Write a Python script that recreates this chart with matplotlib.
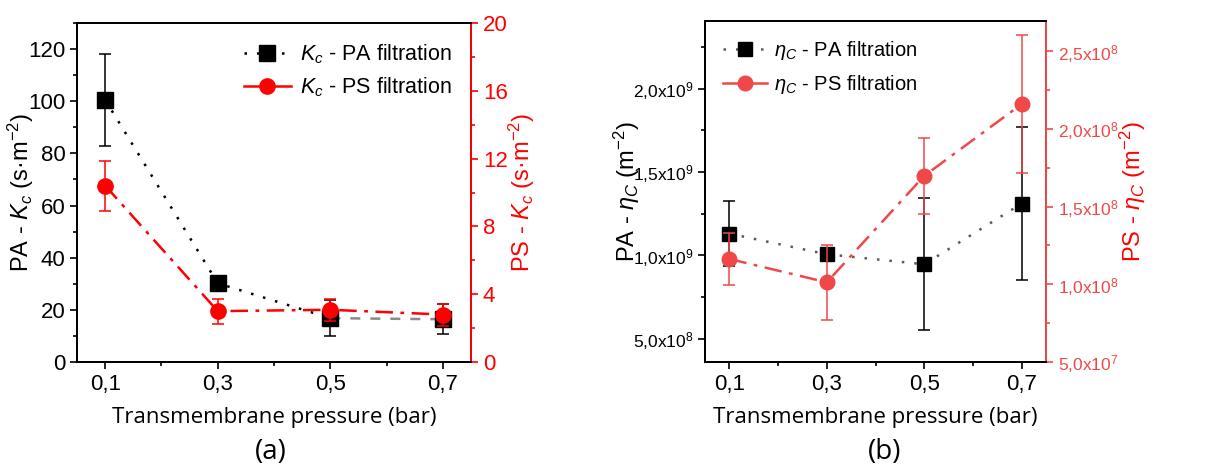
import matplotlib
matplotlib.use("Agg")
import matplotlib.pyplot as plt
from matplotlib.ticker import MultipleLocator, FuncFormatter, FixedLocator

plt.rcParams['font.family'] = ['Liberation Sans', 'DejaVu Sans']
plt.rcParams['mathtext.fontset'] = 'custom'
plt.rcParams['mathtext.rm'] = 'Liberation Sans'
plt.rcParams['mathtext.it'] = 'Liberation Sans:italic'
plt.rcParams['mathtext.bf'] = 'Liberation Sans:bold'

# Transmembrane pressure (bar)
pressure = [0.1, 0.3, 0.5, 0.7]
pressure_labels = ["0,1", "0,3", "0,5", "0,7"]

# Cake filtration constant K_c (s·m^-2)
kc_pa = [100.5, 30.2, 16.8, 16.4]
kc_pa_err = [17.5, 0.8, 7.0, 5.7]
kc_ps = [10.4, 3.0, 3.08, 2.8]
kc_ps_err = [1.48, 0.74, 0.65, 0.65]

# Specific cake resistance eta_C (m^-2)
eta_pa = [1.13e9, 1.006e9, 0.946e9, 1.31e9]
eta_pa_err = [0.195e9, 0.03e9, 0.397e9, 0.46e9]
eta_ps = [1.163e8, 1.013e8, 1.698e8, 2.16e8]
eta_ps_err = [1.7e7, 2.43e7, 2.44e7, 4.45e7]

RED_A = "#ff0000"
RED_B = "#f04848"
GREY = "#5a5a5a"
LABEL_FONT = "Open Sans"

fig = plt.figure(figsize=(12.27, 4.66), dpi=100)
ax_a = fig.add_axes([0.0628, 0.2232, 0.3211, 0.7274])
ax_b = fig.add_axes([0.5746, 0.2232, 0.2779, 0.7318])


def style_axis(ax):
    for s in ax.spines.values():
        s.set_linewidth(1.4)
    ax.tick_params(which='both', direction='out', width=1.2)
    ax.tick_params(which='major', length=5)
    ax.tick_params(which='minor', length=3)


def sci_label(v, exp):
    m = v / 10 ** exp
    return (f"{m:.1f}".replace(".", ",")) + "x10$^{" + str(exp) + "}$"


# ---------------- panel (a) ----------------
ax_a2 = ax_a.twinx()
for ax in (ax_a, ax_a2):
    style_axis(ax)

ax_a.plot(pressure[:3], kc_pa[:3], color='black', linestyle=(0, (1, 4)), lw=1.8, zorder=2)
ax_a.plot(pressure[2:], kc_pa[2:], color='#8a8a8a', linestyle=(0, (4, 4)), lw=1.8, zorder=2)
ax_a.errorbar(pressure, kc_pa, yerr=kc_pa_err, fmt='s', color='black', ms=11,
              capsize=4, elinewidth=1.1, capthick=1.1, zorder=3)
ax_a2.plot(pressure, kc_ps, color=RED_A, linestyle=(0, (7, 3, 1.5, 3)), lw=1.8, zorder=2)
ax_a2.errorbar(pressure, kc_ps, yerr=kc_ps_err, fmt='o', color=RED_A, ms=11,
               capsize=4, elinewidth=1.1, capthick=1.1, zorder=3)

ax_a.set_xlim(0.05, 0.75)
ax_a.set_ylim(0, 130)
ax_a2.set_ylim(0, 20)
ax_a.xaxis.set_major_locator(FixedLocator(pressure))
ax_a.set_xticklabels(pressure_labels)
ax_a.xaxis.set_minor_locator(FixedLocator([0.2, 0.4, 0.6]))
ax_a.yaxis.set_major_locator(MultipleLocator(20))
ax_a.yaxis.set_minor_locator(MultipleLocator(10))
ax_a2.yaxis.set_major_locator(MultipleLocator(4))
ax_a2.yaxis.set_minor_locator(MultipleLocator(2))
ax_a.tick_params(labelsize=16)
ax_a2.tick_params(labelsize=16, colors=RED_A, which='both')
ax_a2.spines['right'].set_color(RED_A)

ax_a.set_ylabel("PA - $K_c$ (s·m$^{-2}$)", fontsize=17)
ax_a.yaxis.set_label_coords(-0.104, 0.5)
ax_a2.set_ylabel("PS - $K_c$ (s·m$^{-2}$)", fontsize=17, color=RED_A)
ax_a2.yaxis.set_label_coords(1.091, 0.5)
ax_a.set_xlabel("Transmembrane pressure (bar)", fontsize=16, family=LABEL_FONT, labelpad=9)

ha = [plt.Line2D([], [], color='black', linestyle=(0, (1, 4)), lw=1.8, marker='s', ms=11),
      plt.Line2D([], [], color=RED_A, linestyle='-', lw=1.8, marker='o', ms=11)]
ax_a.legend(ha, ["$K_c$ - PA filtration", "$K_c$ - PS filtration"], loc='upper right',
            bbox_to_anchor=(1.0, 1.0), frameon=False, fontsize=15.5, handlelength=2.2,
            handletextpad=0.4, labelspacing=0.45)

# ---------------- panel (b) ----------------
ax_b2 = ax_b.twinx()
for ax in (ax_b, ax_b2):
    style_axis(ax)

ax_b.plot(pressure, eta_pa, color=GREY, linestyle=(0, (1, 4)), lw=1.8, zorder=2)
ax_b.errorbar(pressure, eta_pa, yerr=eta_pa_err, fmt='s', color='black', ms=10.5,
              capsize=4, elinewidth=1.1, capthick=1.1, zorder=3)
ax_b2.plot(pressure, eta_ps, color=RED_B, linestyle=(0, (7, 3, 1.5, 3)), lw=1.8, zorder=2)
ax_b2.errorbar(pressure, eta_ps, yerr=eta_ps_err, fmt='o', color=RED_B, ms=10.5,
               capsize=4, elinewidth=1.1, capthick=1.1, zorder=3)

ax_b.set_xlim(0.05, 0.75)
ax_b.set_ylim(3.6e8, 2.405e9)
ax_b2.set_ylim(5e7, 2.695e8)
ax_b.xaxis.set_major_locator(FixedLocator(pressure))
ax_b.set_xticklabels(pressure_labels)
ax_b.xaxis.set_minor_locator(FixedLocator([0.2, 0.4, 0.6]))
ax_b.yaxis.set_major_locator(MultipleLocator(5e8))
ax_b.yaxis.set_minor_locator(MultipleLocator(2.5e8))
ax_b2.yaxis.set_major_locator(MultipleLocator(5e7))
ax_b2.yaxis.set_minor_locator(MultipleLocator(2.5e7))
ax_b.yaxis.set_major_formatter(FuncFormatter(
    lambda v, p: sci_label(v, 9) if v >= 1e9 else sci_label(v, 8)))
ax_b2.yaxis.set_major_formatter(FuncFormatter(
    lambda v, p: sci_label(v, 8) if v >= 1e8 else sci_label(v, 7)))
ax_b.tick_params(axis='x', labelsize=16)
ax_b.tick_params(axis='y', labelsize=12.5)
ax_b2.tick_params(labelsize=12.5, colors=RED_B, which='both')
ax_b2.spines['right'].set_color(RED_B)

ax_b.set_ylabel(r"PA - $\eta_C$ (m$^{-2}$)", fontsize=17)
ax_b.yaxis.set_label_coords(-0.185, 0.5)
ax_b2.set_ylabel(r"PS - $\eta_C$ (m$^{-2}$)", fontsize=17, color=RED_A)
ax_b2.yaxis.set_label_coords(1.211, 0.5)
ax_b.set_xlabel("Transmembrane pressure (bar)", fontsize=16, family=LABEL_FONT, labelpad=9)

hb = [plt.Line2D([], [], color=GREY, linestyle=(0, (1, 4)), lw=1.8, marker='s', ms=10.5,
                 markerfacecolor='black', markeredgecolor='black'),
      plt.Line2D([], [], color=RED_B, linestyle='-', lw=1.8, marker='o', ms=10.5)]
ax_b.legend(hb, [r"$\eta_C$ - PA filtration", r"$\eta_C$ - PS filtration"], loc='upper left',
            bbox_to_anchor=(0.0, 1.0), frameon=False, fontsize=14.5, handlelength=2.2,
            handletextpad=0.3, labelspacing=0.55)

fig.text(271 / 1227, 1 - 452 / 466, "(a)", fontsize=20, family=LABEL_FONT, ha='center', va='center')
fig.text(885 / 1227, 1 - 452 / 466, "(b)", fontsize=20, family=LABEL_FONT, ha='center', va='center')

fig.savefig("out.png", dpi=100)
